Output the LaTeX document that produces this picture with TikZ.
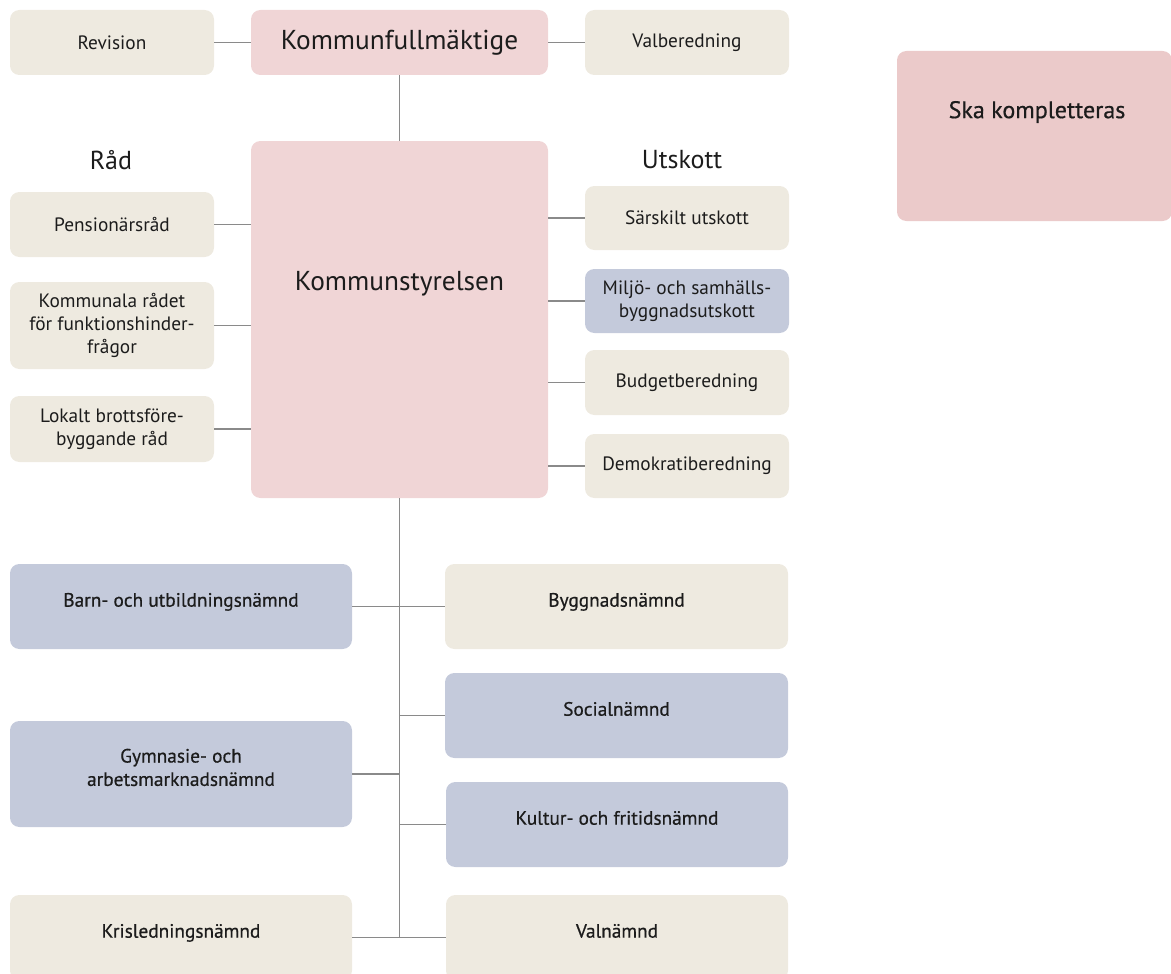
\documentclass[tikz,border=0pt]{standalone}
\usepackage{fontspec}
\setmainfont{PT Sans}
\newfontfamily\medfont[FakeBold=0.6]{PT Sans}
\definecolor{beige}{HTML}{EEEAE0}
\definecolor{rose}{HTML}{F0D5D6}
\definecolor{rosedark}{HTML}{EBCACA}
\definecolor{lilac}{HTML}{C4CADB}
\definecolor{wire}{HTML}{8A8A8A}
\definecolor{ink}{HTML}{1C1C1C}
\tikzset{
  sz/.style 2 args={minimum width=#1*0.75pt, minimum height=#2*0.75pt},
  box/.style={rounded corners=7pt, inner sep=2pt, align=center, text=ink, font=\fontsize{14.5}{17}\selectfont},
  sand/.style={box, fill=beige},
  pink/.style={box, fill=rose},
  blue/.style={box, fill=lilac},
  board/.style={box, text depth=10pt, font=\medfont\fontsize{14.5}{17.5}\selectfont},
  big/.style={text=ink, font=\fontsize{20.5}{24}\selectfont},
  head/.style={text=ink, font=\fontsize{19.5}{22}\selectfont},
  link/.style={draw=wire, line width=1.4pt},
}
\begin{document}
\begin{tikzpicture}[x=0.75pt, y=-0.75pt]
\clip (0,0) rectangle (1171,974);

% top level
\node[sand, sz={204}{65}] (rev) at (112,42.5) {Revision};
\node[pink, sz={297}{65}, big] (kf) at (399.5,42.5) {Kommunfullmäktige};
\node[sand, sz={204}{65}] (val) at (687,42.5) {Valberedning};

% executive board
\node[pink, sz={297}{357}] (ks) at (399.5,319.5) {};
\node[big] (kstext) at (399.5,284) {Kommunstyrelsen};

% councils and committees headings
\node[head] (rad) at (111,160) {Råd};
\node[head] (utsk) at (682,160) {Utskott};

% councils
\node[sand, sz={204}{65}] (pens) at (112,224.5) {Pensionärsråd};
\node[sand, sz={204}{87}] (komm) at (112,325.5) {Kommunala rådet\\för funktionshinder-\\frågor};
\node[sand, sz={204}{66}] (lok) at (112,429) {Lokalt brottsföre-\\byggande råd};

% committees
\node[sand, sz={204}{64}] (sar) at (687,218) {Särskilt utskott};
\node[blue, sz={204}{64}] (milj) at (687,301) {Miljö- och samhälls-\\byggnadsutskott};
\node[sand, sz={204}{65}] (bud) at (687,382.5) {Budgetberedning};
\node[sand, sz={204}{64}] (demo) at (687,466) {Demokratiberedning};

% note box
\node[fill=rosedark, rounded corners=7pt, sz={275}{170}] (ska) at (1034.5,136) {};
\node[text=ink, font=\medfont\fontsize{18}{21}\selectfont] (skatext) at (1037,112) {Ska kompletteras};

% boards
\node[blue, board, sz={342}{85}] (barn) at (181,606.5) {Barn- och utbildningsnämnd};
\node[sand, board, sz={343}{85}] (bygg) at (616.5,606.5) {Byggnadsnämnd};
\node[blue, board, sz={343}{85}] (soc) at (616.5,715.5) {Socialnämnd};
\node[blue, board, sz={342}{106}] (gym) at (181,774) {Gymnasie- och\\arbetsmarknadsnämnd};
\node[blue, board, sz={342}{85}] (kult) at (617,824.5) {Kultur- och fritidsnämnd};
\node[sand, board, sz={342}{85}] (kris) at (181,937.5) {Krisledningsnämnd};
\node[sand, board, sz={342}{85}] (valn) at (617,937.5) {Valnämnd};

% connectors
\draw[link] (rev) -- (kf);
\draw[link] (kf) -- (val);
\draw[link] (kf) -- (ks);
\draw[link] (pens) -- (pens -| ks.west);
\draw[link] (komm) -- (komm -| ks.west);
\draw[link] (lok) -- (lok -| ks.west);
\draw[link] (sar -| ks.east) -- (sar);
\draw[link] (milj -| ks.east) -- (milj);
\draw[link] (bud -| ks.east) -- (bud);
\draw[link] (demo -| ks.east) -- (demo);

\coordinate (trunkend) at (ks.south |- kris.east);
\draw[link] (ks.south) -- (trunkend);
\draw[link] (barn) -- (bygg);
\draw[link] (soc -| ks.south) -- (soc);
\draw[link] (gym) -- (gym -| ks.south);
\draw[link] (kult -| ks.south) -- (kult);
\draw[link] (kris) -- (valn);
\end{tikzpicture}
\end{document}
